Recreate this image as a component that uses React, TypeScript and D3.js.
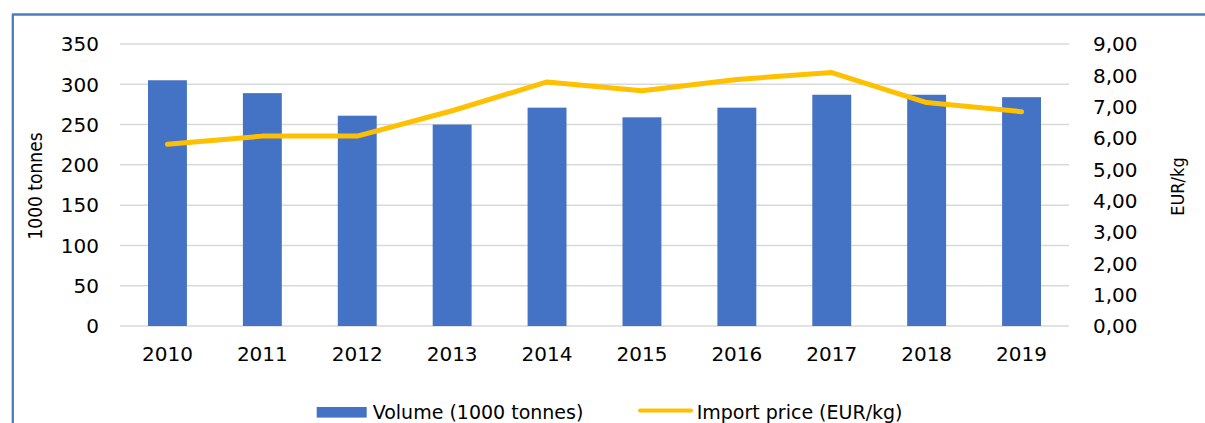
import React from 'react';
import * as d3 from 'd3';

const years = ['2010', '2011', '2012', '2013', '2014', '2015', '2016', '2017', '2018', '2019'];
const volume = [305, 289, 261, 250, 271, 259, 271, 287, 287, 284];
const price = [5.8, 6.06, 6.06, 6.87, 7.79, 7.51, 7.87, 8.09, 7.13, 6.84];
const leftTicks = [0, 50, 100, 150, 200, 250, 300, 350];
const rightTicks = [0, 1, 2, 3, 4, 5, 6, 7, 8, 9];

const width = 1205;
const height = 423;
const margin = { top: 44, right: 136, bottom: 97, left: 120 };

function App() {
  const innerRight = width - margin.right;
  const innerBottom = height - margin.bottom;

  const x = d3.scaleBand().domain(years).range([margin.left, innerRight]).paddingInner(0.59).paddingOuter(0.295);
  const yLeft = d3.scaleLinear().domain([0, 350]).range([innerBottom, margin.top]);
  const yRight = d3.scaleLinear().domain([0, 9]).range([innerBottom, margin.top]);

  const line = d3
    .line<number>()
    .x((_, i) => (x(years[i]) ?? 0) + x.bandwidth() / 2)
    .y((d) => yRight(d));

  const tickFont = 'DejaVu Sans, Verdana, sans-serif';
  const condFont = 'DejaVu Sans Condensed, DejaVu Sans, sans-serif';
  const fmt = (v: number) => v.toFixed(2).replace('.', ',');

  return (
    <svg width={width} height={height} style={{ position: 'absolute', left: 0, top: 0, background: '#fff' }}>
      {/* frame */}
      <line x1={12.8} x2={12.8} y1={14} y2={height} stroke="#4a7ebb" strokeWidth={2.3} />
      <line x1={12} x2={width} y1={14.5} y2={14.5} stroke="#4a7ebb" strokeWidth={2.3} />

      {/* gridlines */}
      {leftTicks.map((t) => (
        <line key={t} x1={margin.left} x2={innerRight} y1={yLeft(t)} y2={yLeft(t)} stroke="#d9d9d9" strokeWidth={1.5} />
      ))}

      {/* bars */}
      {volume.map((v, i) => (
        <rect
          key={years[i]}
          x={x(years[i])}
          y={yLeft(v)}
          width={x.bandwidth()}
          height={yLeft(0) - yLeft(v)}
          fill="#4472c4"
        />
      ))}

      {/* price line */}
      <path d={line(price) ?? ''} fill="none" stroke="#ffc000" strokeWidth={5} strokeLinecap="round" strokeLinejoin="round" />

      {/* left axis */}
      {leftTicks.map((t) => (
        <text key={t} x={99} y={yLeft(t) + 7.3} textAnchor="end" fontFamily={tickFont} fontSize={20} fill="#000">
          {t}
        </text>
      ))}

      {/* right axis */}
      {rightTicks.map((t) => (
        <text key={t} x={1093} y={yRight(t) + 7.3} fontFamily={tickFont} fontSize={20} fill="#000">
          {fmt(t)}
        </text>
      ))}

      {/* x axis */}
      {years.map((yr) => (
        <text key={yr} x={(x(yr) ?? 0) + x.bandwidth() / 2} y={361} textAnchor="middle" fontFamily={tickFont} fontSize={20} fill="#000">
          {yr}
        </text>
      ))}

      {/* axis titles */}
      <text transform="translate(42,186) rotate(-90)" textAnchor="middle" fontFamily={condFont} fontSize={19} fill="#000">
        1000 tonnes
      </text>
      <text transform="translate(1184,186.5) rotate(-90)" textAnchor="middle" fontFamily={condFont} fontSize={18} fill="#000">
        EUR/kg
      </text>

      {/* legend */}
      <rect x={316.7} y={407} width={50} height={10.6} fill="#4472c4" />
      <text x={372.7} y={418.5} fontFamily={tickFont} fontSize={19} fill="#000">
        Volume (1000 tonnes)
      </text>
      <line x1={640} x2={691} y1={410.5} y2={410.5} stroke="#ffc000" strokeWidth={4} strokeLinecap="round" />
      <text x={696.7} y={418.5} fontFamily={tickFont} fontSize={19} fill="#000">
        Import price (EUR/kg)
      </text>
    </svg>
  );
}

export default App;
